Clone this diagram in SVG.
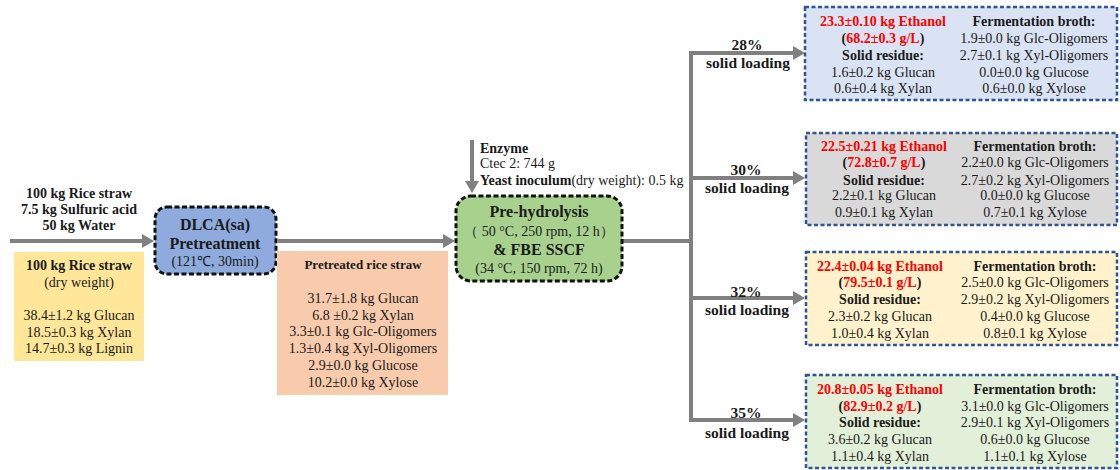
<svg xmlns="http://www.w3.org/2000/svg" width="1120" height="470" viewBox="0 0 1120 470">
<defs>
<style>
text{font-family:"Liberation Serif","Times New Roman",serif;font-size:14px;fill:#1a1a1a;text-anchor:middle}
.b{font-weight:bold}
.r{fill:#ff0000}
.s{text-anchor:start}
.big{font-size:16px;font-weight:bold}
.lbl{font-size:15.5px;font-weight:bold}
.conn{stroke:#808080;stroke-width:4;fill:none}
.res{stroke:#2f5597;stroke-width:2.5;stroke-dasharray:4 2.5}
.proc{stroke:#111;stroke-width:3;stroke-dasharray:5 2.5}
</style>
<marker id="ah" markerUnits="userSpaceOnUse" markerWidth="13" markerHeight="15" refX="0" refY="7" orient="auto">
<path d="M0,0 L12,7 L0,14 z" fill="#808080"/>
</marker>
</defs>
<rect width="1120" height="470" fill="#ffffff"/>

<g id="connectors">
<path class="conn" d="M10,241 H142" marker-end="url(#ah)"/>
<path class="conn" d="M278,241 H443" marker-end="url(#ah)"/>
<path class="conn" d="M472,140 V181" marker-end="url(#ah)"/>
<path class="conn" d="M622,241 H691"/>
<path class="conn" d="M691,51 V422"/>
<path class="conn" d="M689,53 H793" marker-end="url(#ah)"/>
<path class="conn" d="M689,178 H793" marker-end="url(#ah)"/>
<path class="conn" d="M689,298 H793" marker-end="url(#ah)"/>
<path class="conn" d="M689,420 H793" marker-end="url(#ah)"/>
</g>

<g id="feed-label">
<text class="b" x="79" y="198">100 kg Rice straw</text>
<text class="b" x="79" y="214">7.5 kg Sulfuric acid</text>
<text class="b" x="79" y="230">50 kg Water</text>
</g>

<g id="raw-straw">
<rect x="14" y="252" width="130" height="109" fill="#ffe699"/>
<text class="b" x="79" y="270">100 kg Rice straw</text>
<text x="79" y="287">(dry weight)</text>
<text x="79" y="320">38.4±1.2 kg Glucan</text>
<text x="79" y="337">18.5±0.3 kg Xylan</text>
<text x="79" y="353">14.7±0.3 kg Lignin</text>
</g>

<g id="dlca">
<rect class="proc" x="155" y="207" width="121" height="67" rx="12" fill="#8faadc"/>
<text class="big" x="215" y="229.5">DLCA(sa)</text>
<text class="big" x="215" y="248.5">Pretreatment</text>
<text x="215" y="266">(121℃, 30min)</text>
</g>

<g id="pretreated">
<rect x="277" y="251" width="171" height="144" fill="#f8cbad"/>
<text class="b" x="363" y="269" style="font-size:13px">Pretreated rice straw</text>
<text x="363" y="303">31.7±1.8 kg Glucan</text>
<text x="363" y="320">6.8 ±0.2 kg Xylan</text>
<text x="363" y="336">3.3±0.1 kg Glc-Oligomers</text>
<text x="363" y="353">1.3±0.4 kg Xyl-Oligomers</text>
<text x="363" y="370">2.9±0.0 kg Glucose</text>
<text x="363" y="387">10.2±0.0 kg Xylose</text>
</g>

<g id="enzyme">
<text class="s b" x="480" y="153">Enzyme</text>
<text class="s" x="480" y="168">Ctec 2: 744 g</text>
<text class="s" x="480" y="185"><tspan class="b">Yeast inoculum</tspan>(dry weight): 0.5 kg</text>
</g>

<g id="sscf">
<rect class="proc" x="456" y="196" width="166" height="85" rx="15" fill="#a9d18e"/>
<text class="big" x="539" y="216.5">Pre-hydrolysis</text>
<text x="539" y="236">（ 50 °C, 250 rpm, 12 h）</text>
<text class="big" x="539" y="254.5">&amp; FBE SSCF</text>
<text x="539" y="273">(34 °C, 150 rpm, 72 h)</text>
</g>

<g id="loading-labels">
<text class="lbl" x="747" y="50">28%</text>
<text class="lbl" x="748" y="68">solid loading</text>
<text class="lbl" x="746" y="175">30%</text>
<text class="lbl" x="747" y="193">solid loading</text>
<text class="lbl" x="746" y="297">32%</text>
<text class="lbl" x="747" y="315">solid loading</text>
<text class="lbl" x="746" y="418">35%</text>
<text class="lbl" x="747" y="438">solid loading</text>
</g>

<g id="result-28">
<rect class="res" x="805" y="7" width="312" height="93" fill="#dae3f3"/>
<text class="b r" x="883" y="26">23.3±0.10 kg Ethanol</text>
<text class="b" x="883" y="43">(<tspan class="r">68.2±0.3 g/L</tspan>)</text>
<text class="b" x="883" y="60">Solid residue:</text>
<text x="883" y="77">1.6±0.2 kg Glucan</text>
<text x="883" y="93">0.6±0.4 kg Xylan</text>
<text class="b" x="1034" y="26">Fermentation broth:</text>
<text x="1034" y="43">1.9±0.0 kg Glc-Oligomers</text>
<text x="1034" y="60">2.7±0.1 kg Xyl-Oligomers</text>
<text x="1034" y="77">0.0±0.0 kg Glucose</text>
<text x="1034" y="93">0.6±0.0 kg Xylose</text>
</g>

<g id="result-30">
<rect class="res" x="806" y="133" width="311" height="92" fill="#d9d9d9"/>
<text class="b r" x="884" y="151">22.5±0.21 kg Ethanol</text>
<text class="b" x="884" y="167">(<tspan class="r">72.8±0.7 g/L</tspan>)</text>
<text class="b" x="884" y="184.5">Solid residue:</text>
<text x="884" y="200">2.2±0.1 kg Glucan</text>
<text x="884" y="217">0.9±0.1 kg Xylan</text>
<text class="b" x="1035" y="151">Fermentation broth:</text>
<text x="1035" y="167">2.2±0.0 kg Glc-Oligomers</text>
<text x="1035" y="184.5">2.7±0.2 kg Xyl-Oligomers</text>
<text x="1035" y="200">0.0±0.0 kg Glucose</text>
<text x="1035" y="217">0.7±0.1 kg Xylose</text>
</g>

<g id="result-32">
<rect class="res" x="806" y="252" width="311" height="93" fill="#fff2cc"/>
<text class="b r" x="880" y="271">22.4±0.04 kg Ethanol</text>
<text class="b" x="880" y="287">(<tspan class="r">79.5±0.1 g/L</tspan>)</text>
<text class="b" x="880" y="304">Solid residue:</text>
<text x="880" y="321">2.3±0.2 kg Glucan</text>
<text x="880" y="338">1.0±0.4 kg Xylan</text>
<text class="b" x="1035" y="271">Fermentation broth:</text>
<text x="1035" y="287">2.5±0.0 kg Glc-Oligomers</text>
<text x="1035" y="304">2.9±0.2 kg Xyl-Oligomers</text>
<text x="1035" y="321">0.4±0.0 kg Glucose</text>
<text x="1035" y="338">0.8±0.1 kg Xylose</text>
</g>

<g id="result-35">
<rect class="res" x="806" y="375" width="311" height="93" fill="#e2f0d9"/>
<text class="b r" x="880" y="394">20.8±0.05 kg Ethanol</text>
<text class="b" x="880" y="411">(<tspan class="r">82.9±0.2 g/L</tspan>)</text>
<text class="b" x="880" y="427">Solid residue:</text>
<text x="880" y="444">3.6±0.2 kg Glucan</text>
<text x="880" y="461">1.1±0.4 kg Xylan</text>
<text class="b" x="1035" y="394">Fermentation broth:</text>
<text x="1035" y="411">3.1±0.0 kg Glc-Oligomers</text>
<text x="1035" y="427">2.9±0.1 kg Xyl-Oligomers</text>
<text x="1035" y="444">0.6±0.0 kg Glucose</text>
<text x="1035" y="461">1.1±0.1 kg Xylose</text>
</g>
</svg>
